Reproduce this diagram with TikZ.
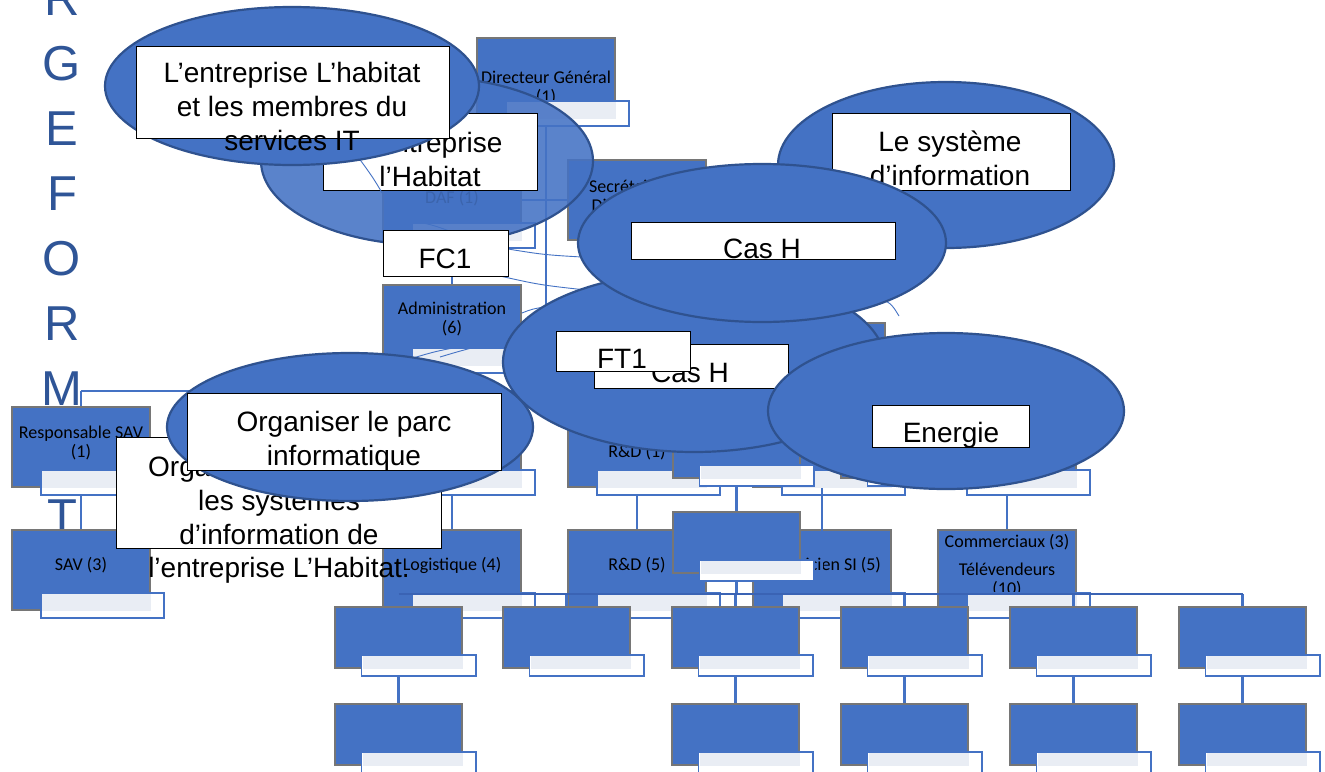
\documentclass[tikz,border=0pt]{standalone}
\usepackage{fontspec}
\setmainfont{Liberation Sans}
\newfontfamily\calib{Carlito}
\usetikzlibrary{shapes.geometric}
\definecolor{bfill}{HTML}{4472C4}
\definecolor{eline}{HTML}{2F528F}
\definecolor{bgray}{HTML}{767676}
\definecolor{lightc}{HTML}{E9EDF4}
\definecolor{lblue}{HTML}{2F5597}
\definecolor{busc}{HTML}{3A63B4}
\pgfdeclarelayer{lA}\pgfdeclarelayer{lB}\pgfdeclarelayer{lC}\pgfdeclarelayer{lD}
\pgfsetlayers{lA,lB,lC,lD,main}
\newcommand\orgunit[6]{%
  \node[obx, minimum width=#4, minimum height=#5] (#1) at ({#2+#4/2},{#3+#5/2}) {};%
  #6%
  \filldraw[lbl] ({#2+0.21*#4},{#3+0.79*#5}) rectangle ({#2+#4+14},{#3+#5+8});%
  \fill[lfill] ({#2+0.21*#4+1},{#3+0.79*#5+1}) rectangle ({#2+#4+1.2},{#3+#5+1.2});%
}
\begin{document}
\begin{tikzpicture}[x=1pt,y=-1pt,
  obx/.style={draw=bgray, line width=2.4pt, fill=bfill, inner sep=0, rectangle},
  lbl/.style={fill=white, draw=bfill, line width=1.6pt},
  lfill/.style={fill=lightc},
  ell/.style={ellipse, draw=eline, line width=2.2pt, fill=bfill, inner sep=0},
  tbox/.style={draw=black, line width=1pt, fill=white, inner sep=0, anchor=north west},
  etxt/.style={font=\fontsize{28}{34}\selectfont, align=center, inner sep=0, text=black},
  otxt/.style={font=\calib\fontsize{18}{19.5}\selectfont, align=center, inner sep=0, text=black},
  conn/.style={draw=bfill, line width=2.2pt},
  busline/.style={draw=busc, line width=2.6pt},
  mmline/.style={draw=bfill, line width=0.9pt},
  vlet/.style={font=\fontsize{49}{49}\selectfont, text=lblue, anchor=base, inner sep=0},
]
\useasboundingbox (0,0) rectangle (1325,771);

% ---------------- background and vertical letters
\begin{pgfonlayer}{lA}
\fill[white] (0,0) rectangle (1325,771);
\node[vlet] (lR1) at (62,15) {R};
\node[vlet] (lG) at (62,80) {G};
\node[vlet] (lE) at (62,145) {E};
\node[vlet] (lF) at (62,210) {F};
\node[vlet] (lO) at (62,275) {O};
\node[vlet] (lR2) at (62,340) {R};
\node[vlet] (lM) at (62,405) {M};
\node[vlet] (lT) at (62,533) {T};
\end{pgfonlayer}

% ---------------- first org chart (boxes)
\begin{pgfonlayer}{lC}
\orgunit{dg}{477}{38}{138}{80}{\node[otxt,anchor=north] (dgt) at (546,70.4) {Directeur Général\\(1)};}
\orgunit{daf}{383}{160}{138}{80}{\node[otxt,anchor=base] (daft) at (452,203) {DAF (1)};}
\orgunit{sec}{568}{160}{138}{80}{\node[otxt,anchor=north] (sect) at (637,179.4) {Secrétaire de\\Direction (1)};}
\orgunit{adm}{383}{285}{138}{80}{\node[otxt,anchor=north] (admt) at (452,301.4) {Administration\\(6)};}
\orgunit{rsav}{12}{407}{138}{80}{\node[otxt,anchor=north] (rsavt) at (81,425.4) {Responsable SAV\\(1)};}
\orgunit{m6}{383}{405}{138}{82}{}
\orgunit{rd1}{568}{405}{138}{82}{\node[otxt,anchor=base] (rd1t) at (637,457) {R\&D (1)};}
\orgunit{ts1}{753}{405}{138}{82}{}
\orgunit{com1}{938}{405}{138}{82}{}
\orgunit{sav}{12}{530}{138}{80}{\node[otxt,anchor=base] (savt) at (81,570) {SAV (3)};}
\orgunit{log}{383}{530}{138}{80}{\node[otxt,anchor=base] (logt) at (452,570) {Logistique (4)};}
\orgunit{rd5}{568}{530}{138}{80}{\node[otxt,anchor=base] (rd5t) at (637,570) {R\&D (5)};}
\orgunit{tsi}{753}{530}{138}{80}{\node[otxt,anchor=base] (tsit) at (822,570) {Technicien SI (5)};}
\orgunit{com}{938}{530}{138}{80}{\node[otxt,anchor=north] (comt) at (1007,534.4) {Commerciaux (3)\\[8pt]Télévendeurs\\(10)};}
\end{pgfonlayer}

% ---------------- second org chart (boxes)
\node[obx, minimum width=138, minimum height=80, anchor=north west] (xb) at (746,322) {};
\orgunit{oa1}{673}{417}{127}{61}{}
\orgunit{oa2}{841}{417}{127}{61}{}
\orgunit{ob}{673}{512}{127}{61}{}
\orgunit{g1}{335}{607}{127}{61}{}
\orgunit{g2}{503}{607}{127}{61}{}
\orgunit{g3}{672}{607}{127}{61}{}
\orgunit{g4}{841}{607}{127}{61}{}
\orgunit{g5}{1010}{607}{127}{61}{}
\orgunit{g6}{1179}{607}{127}{61}{}
\orgunit{h1}{335}{704}{127}{61}{}
\orgunit{h3}{672}{704}{127}{61}{}
\orgunit{h4}{841}{704}{127}{61}{}
\orgunit{h5}{1010}{704}{127}{61}{}
\orgunit{h6}{1179}{704}{127}{61}{}

% ---------------- first chart connectors
\begin{pgfonlayer}{lB}
\coordinate (busL) at (81,391);
\coordinate (busR) at (1007,391);
\draw[conn] (dg.south) -- (dg.south |- busL);
\draw[conn] (daf) -- (sec);
\draw[conn] (daf.south) -- (adm.north);
\draw[conn] (busL) -- (busR);
\draw[conn] (busL) -- (rsav.north);
\foreach \n in {m6,rd1,ts1,com1} {\draw[conn] (\n.north |- busL) -- (\n.north);}
\draw[conn] (rsav.south) -- (sav.north);
\draw[conn] (m6.south) -- (log.north);
\draw[conn] (rd1.south) -- (rd5.north);
\draw[conn] (ts1.south) -- (tsi.north);
\draw[conn] (com1.south) -- (com.north);
\end{pgfonlayer}

% ---------------- second chart connectors
\begin{pgfonlayer}{lD}
\coordinate (bus2L) at (398.5,594);
\coordinate (bus2R) at (1242.5,594);
\draw[conn] (ts1.south) -- (ts1.south |- bus2L);
\draw[conn] (oa1.south) -- (ob.north);
\draw[conn] (ob.south) -- (ob.south |- bus2L);
\foreach \gn in {g1,g2,g3,g4,g5,g6} {\draw[conn] (\gn.north |- bus2L) -- (\gn.north);}
\foreach \a/\b in {g1/h1,g3/h3,g4/h4,g5/h5,g6/h6} {\draw[conn] (\a.south) -- (\b.north);}
\draw[busline] (bus2L) -- (bus2R);
\end{pgfonlayer}

% ---------------- thin mind-map links
\coordinate (fcA) at (508,249);
\coordinate (fcB) at (500,276);
\draw[mmline] (fcA) .. controls (545,255) .. (600,258);
\draw[mmline] (fcB) .. controls (540,285) .. (595,291);
\draw[mmline] (413,358) .. controls (440,350) .. (500,340);
\draw[mmline] (440,357) .. controls (470,348) .. (530,335);
\draw[mmline] (522,313) .. controls (532,309) .. (550,306);
\draw[mmline] (410,221) .. controls (430,224) .. (455,233);
\draw[mmline] (876,297) .. controls (891,303) .. (899,316);

% ---------------- Le système d'information
\node[ell, minimum width=336, minimum height=166] (e2) at (946,165) {};
\node[tbox, minimum width=238, minimum height=77] (b2) at (832,113) {};
\node[etxt, anchor=north] (t2) at (950,130.6) {Le système\\d’information};

% ---------------- L'entreprise l'Habitat (semi-transparent)
\node[ell, fill opacity=0.88, minimum width=332, minimum height=168] (e1) at (427,161) {};
\node[tbox, minimum width=214, minimum height=77] (b1) at (323,113) {};
\node[etxt, anchor=north] (t1) at (430,131.6) {L’entreprise\\l’Habitat};

% ---------------- FC1
\node[tbox, minimum width=125, minimum height=46] (bfc) at (383,230) {};
\node[etxt, anchor=base] (tfc) at (445,268) {FC1};
\draw[mmline] (345,140) .. controls (362,162) and (374,178) .. (382,193);

% ---------------- L'entreprise L'habitat et les membres du services IT
\node[ell, minimum width=374, minimum height=158] (e0) at (292,86) {};
\node[tbox, minimum width=313, minimum height=92] (b0) at (136,46) {};
\node[etxt, anchor=north] (t0) at (292,62) {L’entreprise L’habitat\\et les membres du\\services IT};

% ---------------- Organiser les systemes (box only)
\node[tbox, minimum width=325, minimum height=111] (b7) at (116,437) {};
\node[etxt, anchor=base west] (t7a) at (148,476) {Organiser};
\node[etxt, anchor=north, font=\fontsize{28}{33.7}\selectfont] (t7) at (279,489.6) {les systèmes\\d’information de\\l’entreprise L’Habitat.};

% ---------------- Organiser le parc informatique
\node[ell, minimum width=366, minimum height=148] (e5) at (350,427) {};
\node[tbox, minimum width=314, minimum height=77] (b5) at (187,393) {};
\node[etxt, anchor=north] (t5) at (344,411) {Organiser le parc\\informatique};

% ---------------- Cas H (second) + FT1
\node[ell, minimum width=382, minimum height=180] (e4) at (694,362) {};
\node[tbox, minimum width=194, minimum height=44] (b4) at (594,344) {};
\node[etxt, anchor=base] (t4) at (690,382) {Cas H};
\node[tbox, minimum width=134, minimum height=40] (bft) at (556,331) {};
\node[etxt, anchor=base] (tft) at (622,368) {FT1};

% ---------------- Cas H (top)
\node[ell, minimum width=368, minimum height=158] (e3) at (762,243) {};
\node[tbox, minimum width=264, minimum height=37] (b3) at (631,222) {};
\node[etxt, anchor=base] (t3) at (762,258) {Cas H};

% ---------------- Energie
\node[ell, minimum width=356, minimum height=156] (e6) at (946,411) {};
\node[tbox, minimum width=157, minimum height=42] (b6) at (872,405) {};
\node[etxt, anchor=base] (t6) at (951,442) {Energie};
\end{tikzpicture}
\end{document}
